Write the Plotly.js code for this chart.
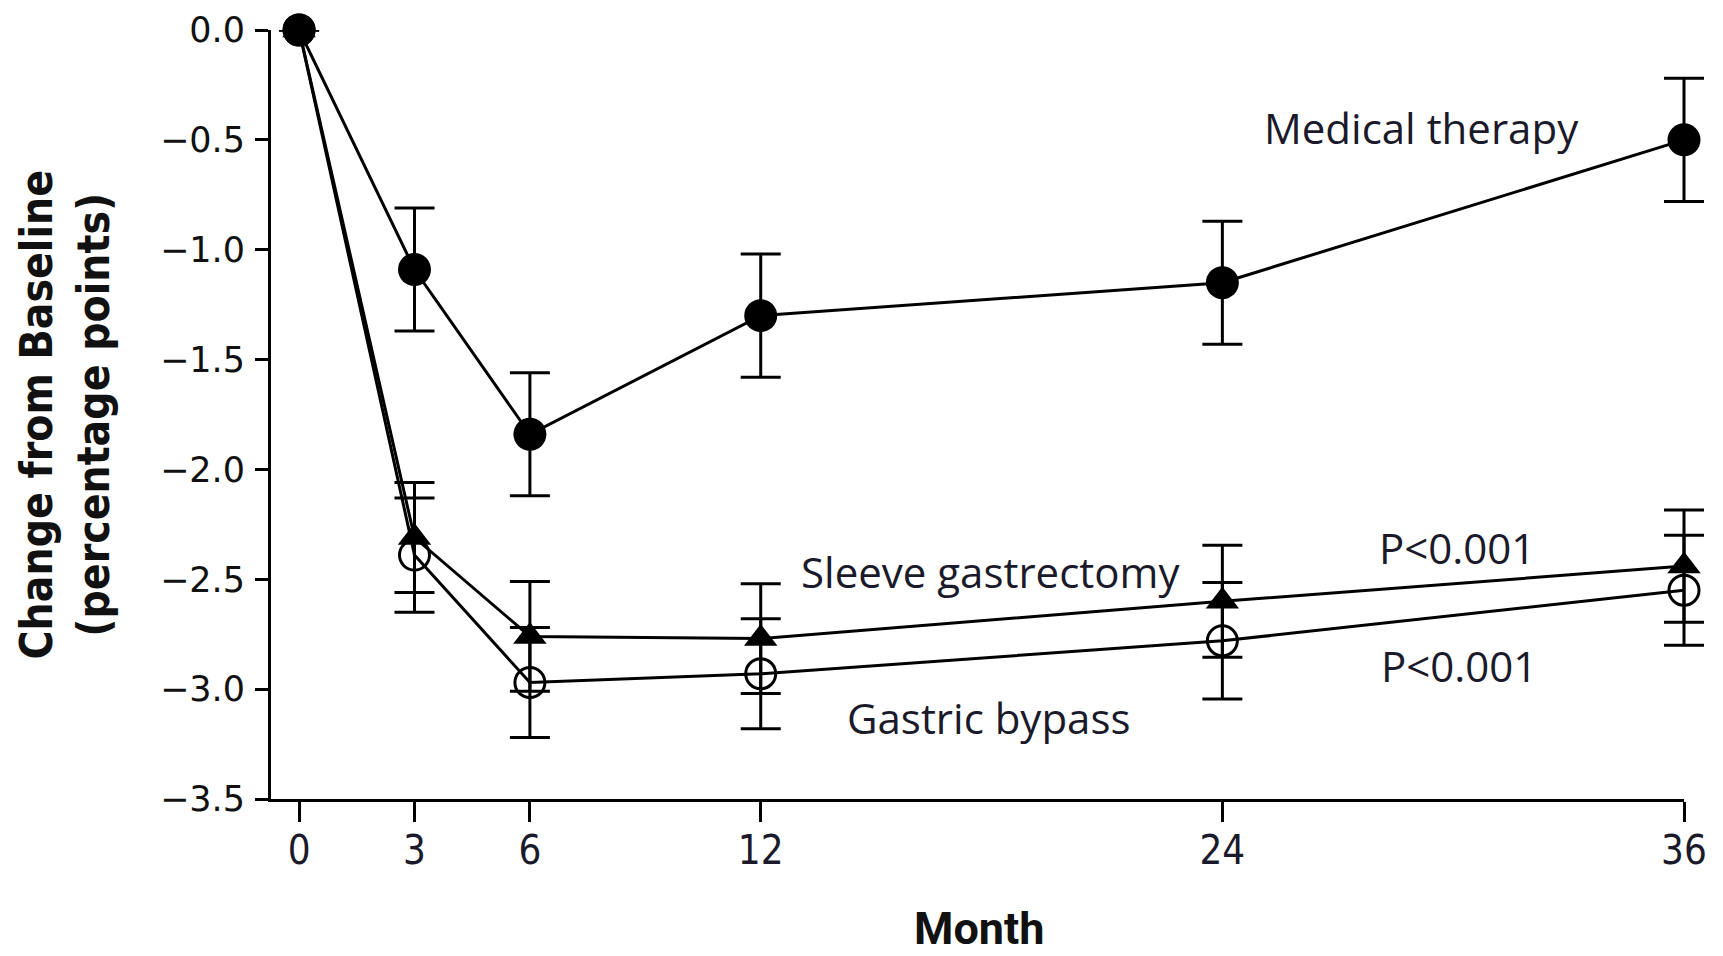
<!DOCTYPE html>
<html>
<head>
<meta charset="utf-8">
<script src="https://cdn.plot.ly/plotly-3.0.1.min.js"></script>
<style>html,body{margin:0;padding:0;background:#fff;}#chart{width:1723px;height:956px;}</style>
</head>
<body>
<div id="chart"></div>
<script>
const months = [0, 3, 6, 12, 24, 36];
const medicalValues = [0, -1.09, -1.84, -1.30, -1.15, -0.50];
const medicalErr = [0, 0.28, 0.28, 0.28, 0.28, 0.28];
const sleeveValues = [0, -2.31, -2.76, -2.77, -2.60, -2.44];
const sleeveErr = [0, 0.25, 0.25, 0.25, 0.255, 0.255];
const bypassValues = [0, -2.39, -2.97, -2.93, -2.78, -2.55];
const bypassErr = [0, 0.26, 0.25, 0.25, 0.265, 0.25];
const yTicks = [0, -0.5, -1.0, -1.5, -2.0, -2.5, -3.0, -3.5];

// geometry (pixels)
const W = 1723, H = 956, L = 271, T = 30, B = 157;
const axisRightPx = 1684;
const xMin = -0.73, xMax = 36;
const plotW = W - L;
const visFrac = (axisRightPx - L) / plotW;
const xMax2 = xMin + (xMax - xMin) / visFrac;
const plotH = H - T - B;
const px = v => (v - L) / plotW;
const py = v => (H - B - v) / plotH;

function errObj(arr){
  return {type:'data', array:arr, visible:true, color:'#000', thickness:3, width:20};
}

const common = {type:'scatter', mode:'lines+markers', xaxis:'x2', yaxis:'y', cliponaxis:false,
  line:{color:'#000', width:3}};
const traces = [
  // empty trace so the visible month axis subplot is built
  {type:'scatter', mode:'markers', x:[], y:[], xaxis:'x', yaxis:'y', showlegend:false, hoverinfo:'skip'},
  Object.assign({}, common, {x: months, y: medicalValues, name:'Medical therapy',
   marker:{symbol:'circle', size:33, color:'#000'}, error_y: errObj(medicalErr)}),
  Object.assign({}, common, {x: months, y: sleeveValues, name:'Sleeve gastrectomy',
   marker:{symbol:'triangle-up', size:29, color:'#000'}, error_y: errObj(sleeveErr)}),
  Object.assign({}, common, {x: months, y: bypassValues, name:'Gastric bypass',
   marker:{symbol:'circle-open', size:30, color:'#000', line:{width:3, color:'#000'}}, error_y: errObj(bypassErr)})
];

const annFont = {family:'Open Sans, Lato, sans-serif', size:42, color:'#1a1a2a'};
const layout = {
  width:W, height:H,
  margin:{l:L, r:0, t:T, b:B, pad:0},
  paper_bgcolor:'#fff', plot_bgcolor:'rgba(0,0,0,0)',
  showlegend:false,
  xaxis:{domain:[0, visFrac], anchor:'y', range:[xMin, xMax], tickvals: months, ticktext: months.map(String),
    showgrid:false, zeroline:false, showline:true, linecolor:'#000', linewidth:3,
    ticks:'outside', ticklen:20, tickwidth:3, tickcolor:'#000', ticklabelstandoff:-6,
    tickfont:{family:'Liberation Sans Narrow, DejaVu Sans Condensed, sans-serif', size:40, color:'#1a1a2a'}},
  xaxis2:{domain:[0, 1], anchor:'y', range:[xMin, xMax2], showgrid:false, zeroline:false, showline:false,
    ticks:'', showticklabels:false},
  yaxis:{range:[-3.5, 0], anchor:'x', tickvals: yTicks, tickformat:'.1f',
    showgrid:false, zeroline:false, showline:true, linecolor:'#000', linewidth:3,
    ticks:'outside', ticklen:13, tickwidth:3, tickcolor:'#000', ticklabelstandoff:3,
    tickfont:{family:'DejaVu Sans, sans-serif', size:35, color:'#111'}},
  annotations:[
    {text:'Medical therapy', xref:'paper', yref:'paper', x:px(1421), y:py(127.5), showarrow:false, font:annFont, xanchor:'center', yanchor:'middle'},
    {text:'Sleeve gastrectomy', xref:'paper', yref:'paper', x:px(990), y:py(571), showarrow:false, font:annFont, xanchor:'center', yanchor:'middle'},
    {text:'Gastric bypass', xref:'paper', yref:'paper', x:px(988), y:py(717.6), showarrow:false, font:annFont, xanchor:'center', yanchor:'middle'},
    {text:'P<0.001', xref:'paper', yref:'paper', x:px(1457), y:py(547), showarrow:false, font:annFont, xanchor:'center', yanchor:'middle'},
    {text:'P<0.001', xref:'paper', yref:'paper', x:px(1459), y:py(665), showarrow:false, font:annFont, xanchor:'center', yanchor:'middle'},
    {text:'Month', xref:'paper', yref:'paper', x:px(979), y:py(928), showarrow:false, xanchor:'center', yanchor:'middle',
     font:{family:'Roboto, Liberation Sans, sans-serif', size:45, color:'#111', weight:'bold'}},
    {text:'<b>Change from Baseline</b><br>(percentage points)', xref:'paper', yref:'paper', x:px(64), y:0.5, textangle:-90,
     showarrow:false, xanchor:'center', yanchor:'middle',
     font:{family:'Liberation Sans Narrow, DejaVu Sans Condensed, sans-serif', size:44, color:'#111', weight:'bold'}}
  ]
};

Plotly.newPlot('chart', traces, layout, {staticPlot:true, displayModeBar:false});
</script>
</body>
</html>
